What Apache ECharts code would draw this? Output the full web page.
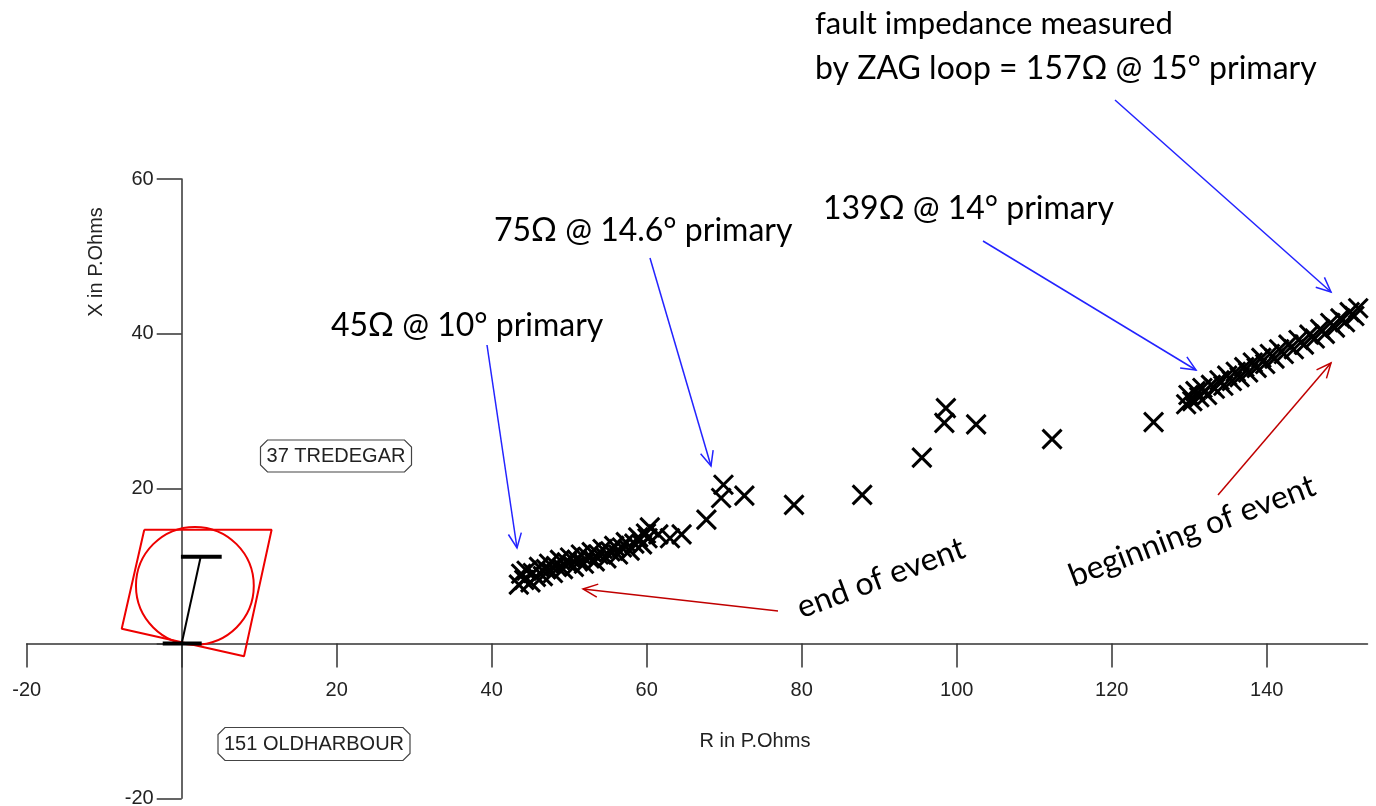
<!DOCTYPE html>
<html>
<head>
<meta charset="utf-8">
<script src="https://cdn.jsdelivr.net/npm/echarts@6/dist/echarts.min.js"></script>
<style>
  html, body { margin: 0; padding: 0; background: #ffffff; }
  #chart { width: 1376px; height: 806px; }
</style>
</head>
<body>
<div id="chart"></div>
<script>
// Axis ranges and tick positions (primary ohms)
const rRange = [-20, 153];
const xRange = [-20, 60];
const rTicks = [-20, 0, 20, 40, 60, 80, 100, 120, 140];
const xTicks = [-20, 0, 20, 40, 60];

// Impedance trajectory seen by the ZAG loop, [R, X]
const endOfEvent = [
  [43.5, 7.6], [43.8, 9.0], [44.2, 8.2], [44.5, 9.4], [45.0, 7.9], [45.3, 9.1],
  [45.7, 8.6], [46.1, 9.9], [46.6, 8.7], [47.0, 9.6], [47.4, 10.3], [47.9, 9.1],
  [48.3, 10.0], [48.8, 10.8], [49.2, 9.6], [49.7, 10.5], [50.1, 11.1], [50.6, 9.9],
  [51.0, 10.8], [51.5, 11.5], [51.9, 10.3], [52.4, 11.2], [52.9, 11.8], [53.3, 10.6],
  [53.8, 11.5], [54.3, 12.2], [54.8, 11.0], [55.3, 11.9], [55.8, 12.6], [56.3, 11.5],
  [56.8, 12.4], [57.3, 13.1], [57.8, 12.0], [58.4, 12.9], [58.9, 13.7], [59.4, 12.8],
  [59.9, 14.2], [60.1, 13.6], [60.4, 15.0]
];
const transition = [
  [61.5, 14.1], [63.0, 13.6], [64.5, 14.1], [67.7, 16.0], [69.6, 18.8], [69.9, 20.5],
  [72.6, 19.1], [79.0, 17.9], [87.8, 19.2], [95.5, 24.0], [98.4, 28.5], [98.6, 30.4],
  [102.5, 28.3], [112.3, 26.4], [125.4, 28.6]
];
const beginningOfEvent = [
  [129.6, 30.9], [129.9, 32.1], [130.4, 31.3], [130.8, 32.6], [131.3, 31.8], [131.7, 33.0],
  [132.3, 32.1], [132.8, 33.4], [133.3, 32.9], [133.9, 34.0], [134.4, 33.3], [134.9, 34.6],
  [135.5, 33.9], [136.0, 35.1], [136.5, 34.4], [137.1, 35.7], [137.6, 35.0], [138.2, 36.3],
  [138.7, 35.6], [139.3, 36.9], [139.8, 36.1], [140.4, 37.4], [141.0, 36.8], [141.6, 38.0],
  [142.2, 37.4], [142.8, 38.6], [143.5, 38.0], [144.1, 39.2], [144.8, 38.6], [145.5, 39.9],
  [146.2, 39.4], [146.9, 40.6], [147.5, 40.0], [148.2, 41.4], [148.8, 40.8], [149.5, 42.0],
  [150.1, 41.5], [150.7, 42.8], [151.3, 42.3], [151.8, 43.3]
];

// Relay characteristics
const quadZone = [[-4.83, 14.7], [11.6, 14.7], [8.04, -1.64], [-7.74, 1.9], [-4.83, 14.7]];
const mhoCenter = [1.7, 7.45];
const mhoRadius = 7.6;
const lineAngle = [[0, 0], [2.45, 11.2]];
const reachBar = [[-0.1, 11.2], [5.16, 11.2]];
const originBar = [[-2.45, 0], [2.58, 0]];

const AXIS_FONT = '"Liberation Sans", Arial, sans-serif';
const NOTE_FONT = 'Lato, "Open Sans", sans-serif';
const AXIS_COLOR = '#333333';
const BLUE = '#2323ff';
const RED = '#c00000';

const W = 1376, H = 806;
const GRID = { left: 26.7, right: 8.5, top: 179, bottom: 7.7 };
const plotW = W - GRID.left - GRID.right;
const plotH = H - GRID.top - GRID.bottom;
// Shift both axes from the plot edges onto the zero lines
const xAxisOffset = -(0 - xRange[0]) / (xRange[1] - xRange[0]) * plotH;
const yAxisOffset = -(0 - rRange[0]) / (rRange[1] - rRange[0]) * plotW;

const crossSymbol = 'path://M0,0L10,10M10,0L0,10';

const chart = echarts.init(document.getElementById('chart'));

function polyLine(data, color, width) {
  return {
    type: 'line', data: data, showSymbol: false, symbol: 'none', silent: true,
    lineStyle: { color: color, width: width }, z: 3, animation: false
  };
}

function crossSeries(data) {
  return {
    type: 'scatter', data: data, symbol: crossSymbol, symbolSize: 19,
    itemStyle: { color: 'none', borderColor: '#000000', borderWidth: 3, opacity: 1 },
    silent: true, z: 4, animation: false
  };
}

function arrow(x1, y1, x2, y2, color) {
  const a = Math.atan2(y2 - y1, x2 - x1);
  const L = 16, h = 0.42;
  const p1 = [x2 - L * Math.cos(a - h), y2 - L * Math.sin(a - h)];
  const p2 = [x2 - L * Math.cos(a + h), y2 - L * Math.sin(a + h)];
  return [
    { type: 'line', shape: { x1: x1, y1: y1, x2: x2, y2: y2 }, style: { stroke: color, lineWidth: 1.5 }, z: 10 },
    { type: 'polyline', shape: { points: [p1, [x2, y2], p2] }, style: { stroke: color, lineWidth: 1.5, fill: null }, z: 10 }
  ];
}

function note(text, x, y, size, align, rotationDeg) {
  return {
    type: 'text', x: x, y: y, z: 10, rotation: (rotationDeg || 0) * Math.PI / 180,
    style: { text: text, font: size + 'px ' + NOTE_FONT, fill: '#000000', align: align || 'left', verticalAlign: 'middle' }
  };
}

function tagBox(text, cx, cy, w, h) {
  const c = 7, l = cx - w / 2, r = cx + w / 2, t = cy - h / 2, b = cy + h / 2;
  return [
    { type: 'polygon', z: 10, shape: { points: [
        [l + c, t], [r - c, t], [r, t + c], [r, b - c], [r - c, b], [l + c, b], [l, b - c], [l, t + c]
      ] }, style: { fill: '#ffffff', stroke: '#444444', lineWidth: 1.2 } },
    { type: 'text', x: cx, y: cy, z: 11, style: { text: text, font: '20px ' + AXIS_FONT, fill: '#222222', align: 'center', verticalAlign: 'middle' } }
  ];
}

const graphics = [].concat(
  arrow(1115, 100, 1331, 292, BLUE),
  arrow(983, 241, 1196, 370, BLUE),
  arrow(650, 258, 711, 466, BLUE),
  arrow(487, 345, 517, 548, BLUE),
  arrow(778, 611, 583, 589, RED),
  arrow(1218, 495, 1331, 363, RED),
  tagBox('37 TREDEGAR', 336, 456, 151, 32),
  tagBox('151 OLDHARBOUR', 314, 744, 192, 33),
  [
    note('fault impedance measured', 815, 24, 31),
    note('by ZAG loop = 157Ω @ 15° primary', 815, 69, 32),
    note('139Ω @ 14° primary', 823, 209, 32),
    note('75Ω @ 14.6° primary', 494, 231, 32),
    note('45Ω @ 10° primary', 331, 326, 32),
    note('end of event', 881, 578, 32, 'center', 20.5),
    note('beginning of event', 1192, 531, 32, 'center', 20.8),
    { type: 'text', x: 755, y: 741, z: 10, style: { text: 'R in P.Ohms', font: '20px ' + AXIS_FONT, fill: '#222222', align: 'center', verticalAlign: 'middle' } },
    { type: 'text', x: 96, y: 262, z: 10, rotation: Math.PI / 2, style: { text: 'X in P.Ohms', font: '20px ' + AXIS_FONT, fill: '#222222', align: 'center', verticalAlign: 'middle' } }
  ]
);

chart.setOption({
  animation: false,
  backgroundColor: '#ffffff',
  grid: {
    left: GRID.left, right: GRID.right, top: GRID.top, bottom: GRID.bottom,
    containLabel: false, outerBoundsMode: 'none'
  },
  xAxis: {
    type: 'value', min: rRange[0], max: rRange[1], interval: 20,
    position: 'bottom', offset: xAxisOffset,
    axisLine: { onZero: false, lineStyle: { color: AXIS_COLOR, width: 1.5 } },
    axisTick: { show: true, length: 24, customValues: rTicks, lineStyle: { color: AXIS_COLOR, width: 1.5 } },
    axisLabel: {
      margin: 37, fontFamily: AXIS_FONT, fontSize: 20, color: '#222222',
      customValues: rTicks.filter(function (v) { return v !== 0; }),
      formatter: function (v) { return v === 0 ? '' : String(v); }
    },
    splitLine: { show: false }
  },
  yAxis: {
    type: 'value', min: xRange[0], max: xRange[1], interval: 20,
    position: 'left', offset: yAxisOffset,
    axisLine: { onZero: false, lineStyle: { color: AXIS_COLOR, width: 1.5 } },
    axisTick: { show: true, length: 25, customValues: xTicks, lineStyle: { color: AXIS_COLOR, width: 1.5 } },
    axisLabel: {
      margin: 28, fontFamily: AXIS_FONT, fontSize: 20, color: '#222222',
      customValues: xTicks.filter(function (v) { return v !== 0; }),
      formatter: function (v) { return v === 0 ? '' : String(v); }
    },
    splitLine: { show: false }
  },
  series: [
    polyLine(quadZone, '#ee0000', 2),
    {
      type: 'custom', data: [mhoCenter], silent: true, z: 3, animation: false,
      renderItem: function (params, api) {
        const c = api.coord([api.value(0), api.value(1)]);
        const r = api.size([mhoRadius, 0])[0];
        return { type: 'circle', shape: { cx: c[0], cy: c[1], r: r }, style: { fill: 'none', stroke: '#ee0000', lineWidth: 2 } };
      }
    },
    polyLine(lineAngle, '#000000', 2),
    polyLine(reachBar, '#000000', 4),
    polyLine(originBar, '#000000', 4),
    crossSeries(endOfEvent),
    crossSeries(transition),
    crossSeries(beginningOfEvent)
  ],
  graphic: graphics
});
</script>
</body>
</html>
